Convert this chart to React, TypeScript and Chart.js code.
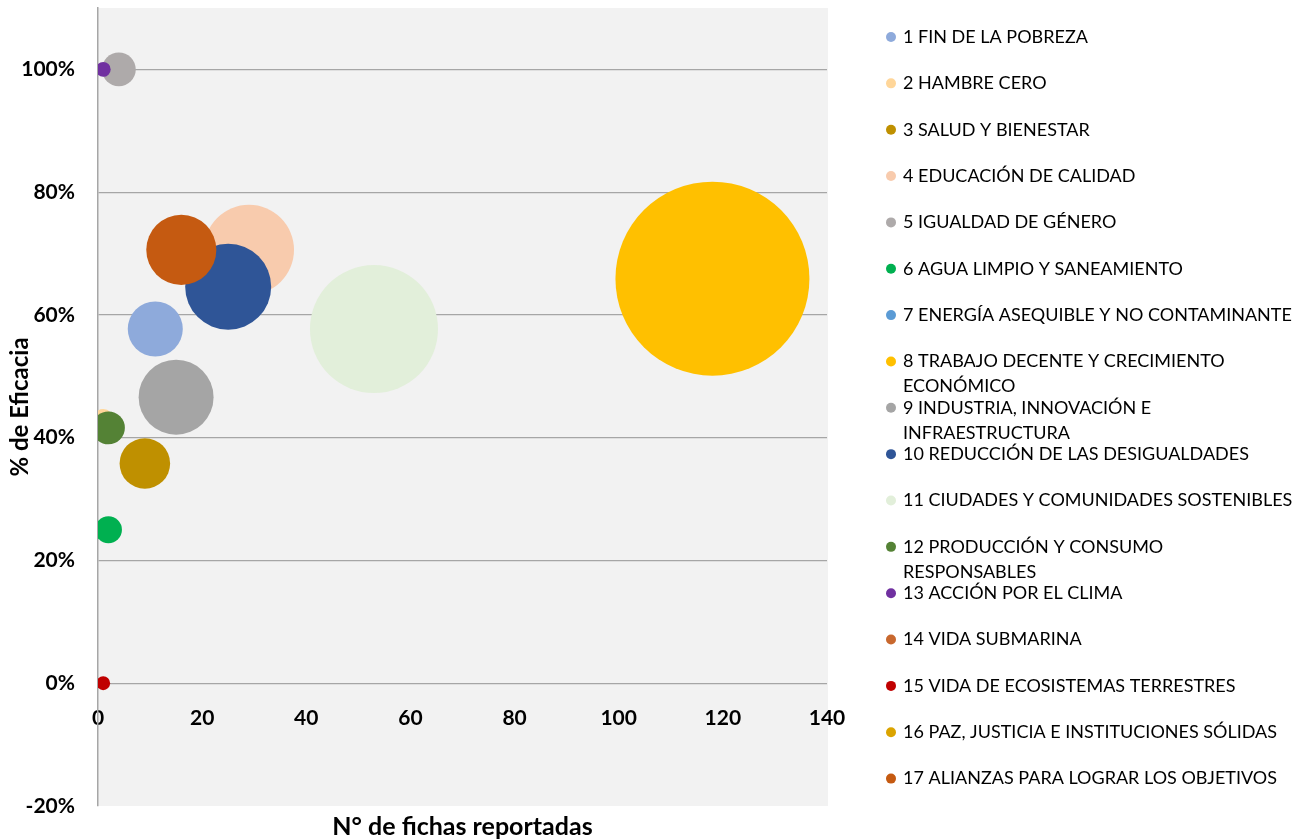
import { useEffect, useRef } from "react";
import { Chart, registerables } from "chart.js";

Chart.register(...registerables);

// Categories (legend labels, wrapped as in the reference)
const categories: string[][] = [
  ["1 FIN DE LA POBREZA"],
  ["2 HAMBRE CERO"],
  ["3 SALUD Y BIENESTAR"],
  ["4 EDUCACIÓN DE CALIDAD"],
  ["5 IGUALDAD DE GÉNERO"],
  ["6 AGUA LIMPIO Y SANEAMIENTO"],
  ["7 ENERGÍA ASEQUIBLE Y NO CONTAMINANTE"],
  ["8 TRABAJO DECENTE Y CRECIMIENTO", "ECONÓMICO"],
  ["9 INDUSTRIA, INNOVACIÓN E", "INFRAESTRUCTURA"],
  ["10 REDUCCIÓN DE LAS DESIGUALDADES"],
  ["11 CIUDADES Y COMUNIDADES SOSTENIBLES"],
  ["12 PRODUCCIÓN Y CONSUMO", "RESPONSABLES"],
  ["13 ACCIÓN POR EL CLIMA"],
  ["14 VIDA SUBMARINA"],
  ["15 VIDA DE ECOSISTEMAS TERRESTRES"],
  ["16 PAZ, JUSTICIA E INSTITUCIONES SÓLIDAS"],
  ["17 ALIANZAS PARA LOGRAR LOS OBJETIVOS"],
];

// N° de fichas reportadas (x)
const fichas = [11, 1, 9, 29, 4, 2, 0, 118, 15, 25, 53, 2, 1, 0, 1, 0, 16];
// % de Eficacia (y)
const eficacia = [57.7, 43, 35.8, 70.6, 100, 25, 0, 65.9, 46.6, 64.6, 57.7, 41.6, 100, 0, 0, 0, 70.6];
// Bubble size values (area-proportional)
const bubbleSizes = [9.5, 1.3, 8, 25.4, 3.6, 2.3, 0, 118, 17.6, 23.2, 51.4, 3.4, 0.7, 0, 0.6, 0, 15.4];

const colors = [
  "#8eaadb", "#ffd699", "#bf9000", "#f8cbad", "#aeaaaa", "#00b050",
  "#5b9bd5", "#ffc000", "#a5a5a5", "#2f5597", "#e2efda", "#548235",
  "#7030a0", "#c8682e", "#c00000", "#dba400", "#c55a11",
];

const xTickValues = [0, 20, 40, 60, 80, 100, 120, 140];
const yTickValues = [-20, 0, 20, 40, 60, 80, 100];

const X_TITLE = "N° de fichas reportadas";
const Y_TITLE = "% de Eficacia";

const MAX_RADIUS = 97;
const FONT = "Lato";

const bgPlugin = {
  id: "plotBg",
  beforeDraw(chart: any) {
    const { ctx, chartArea } = chart;
    ctx.save();
    ctx.fillStyle = "#f2f2f2";
    ctx.fillRect(chartArea.left, chartArea.top, chartArea.right - chartArea.left + 1, chartArea.bottom - chartArea.top);
    ctx.restore();
  },
};

const extrasPlugin = {
  id: "extras",
  afterDraw(chart: any) {
    const { ctx, chartArea } = chart;
    ctx.save();
    // x axis title
    ctx.font = `bold 25px ${FONT}`;
    ctx.fillStyle = "#000";
    ctx.textAlign = "center";
    ctx.textBaseline = "middle";
    ctx.fillText(X_TITLE, (chartArea.left + chartArea.right) / 2, 827);
    // legend
    ctx.textAlign = "left";
    ctx.font = `18px ${FONT}`;
    categories.forEach((lines, i) => {
      const y = 37 + i * 46.35;
      ctx.beginPath();
      ctx.arc(891, y, 5, 0, Math.PI * 2);
      ctx.fillStyle = colors[i];
      ctx.fill();
      ctx.fillStyle = "#000";
      lines.forEach((t, j) => ctx.fillText(t, 903, y + j * 25));
    });
    ctx.restore();
  },
};

export default function App() {
  const ref = useRef<HTMLCanvasElement | null>(null);

  useEffect(() => {
    if (!ref.current) return;
    const maxSize = Math.max(...bubbleSizes);
    const datasets = categories.map((lines, i) => ({
      label: lines.join(" "),
      data: [{ x: fichas[i], y: eficacia[i], r: MAX_RADIUS * Math.sqrt(bubbleSizes[i] / maxSize) }],
      backgroundColor: colors[i],
      borderWidth: 0,
      hoverBorderWidth: 0,
      order: -i,
      clip: 0,
    }));

    const chart = new Chart(ref.current, {
      type: "bubble",
      data: { datasets },
      plugins: [bgPlugin, extrasPlugin],
      options: {
        responsive: false,
        animation: false,
        events: [],
        layout: { autoPadding: false, padding: { left: 0, top: 8, right: 471, bottom: 34 } },
        plugins: {
          legend: { display: false },
          tooltip: { enabled: false },
        },
        scales: {
          x: {
            type: "linear",
            position: { y: 0 } as any,
            min: 0,
            max: 140,
            afterBuildTicks: (scale: any) => {
              scale.ticks = xTickValues.map((v) => ({ value: v }));
            },
            afterFit: (scale: any) => {
              scale.paddingLeft = 0;
              scale.paddingRight = 0;
            },
            grid: { display: false, drawTicks: false },
            border: { display: false },
            ticks: {
              padding: 22,
              color: "#000",
              font: { family: FONT, size: 21, weight: "bold" },
              maxRotation: 0,
              autoSkip: false,
            },
          },
          y: {
            type: "linear",
            min: -20,
            max: 110,
            afterBuildTicks: (scale: any) => {
              scale.ticks = yTickValues.map((v) => ({ value: v }));
            },
            afterFit: (scale: any) => {
              scale.width = 98;
              scale.paddingTop = 0;
              scale.paddingBottom = 0;
            },
            grid: {
              drawTicks: false,
              color: (c: any) => (c.tick && c.tick.value === -20 ? "rgba(0,0,0,0)" : "#a6a6a6"),
              lineWidth: 1.2,
            },
            border: { display: true, color: "#a6a6a6", width: 1.5 },
            ticks: {
              padding: 23,
              color: "#000",
              font: { family: FONT, size: 21, weight: "bold" },
              callback: (v: any) => `${v}%`,
            },
            title: {
              display: true,
              text: Y_TITLE,
              color: "#000",
              font: { family: FONT, size: 24, weight: "bold" },
              padding: { top: 6, bottom: 4 },
            },
          },
        },
      },
    });
    return () => chart.destroy();
  }, []);

  return (
    <div style={{ position: "absolute", left: 0, top: 0, width: 1298, height: 840, background: "#fff" }}>
      <canvas ref={ref} width={1298} height={840} style={{ display: "block" }} />
    </div>
  );
}
